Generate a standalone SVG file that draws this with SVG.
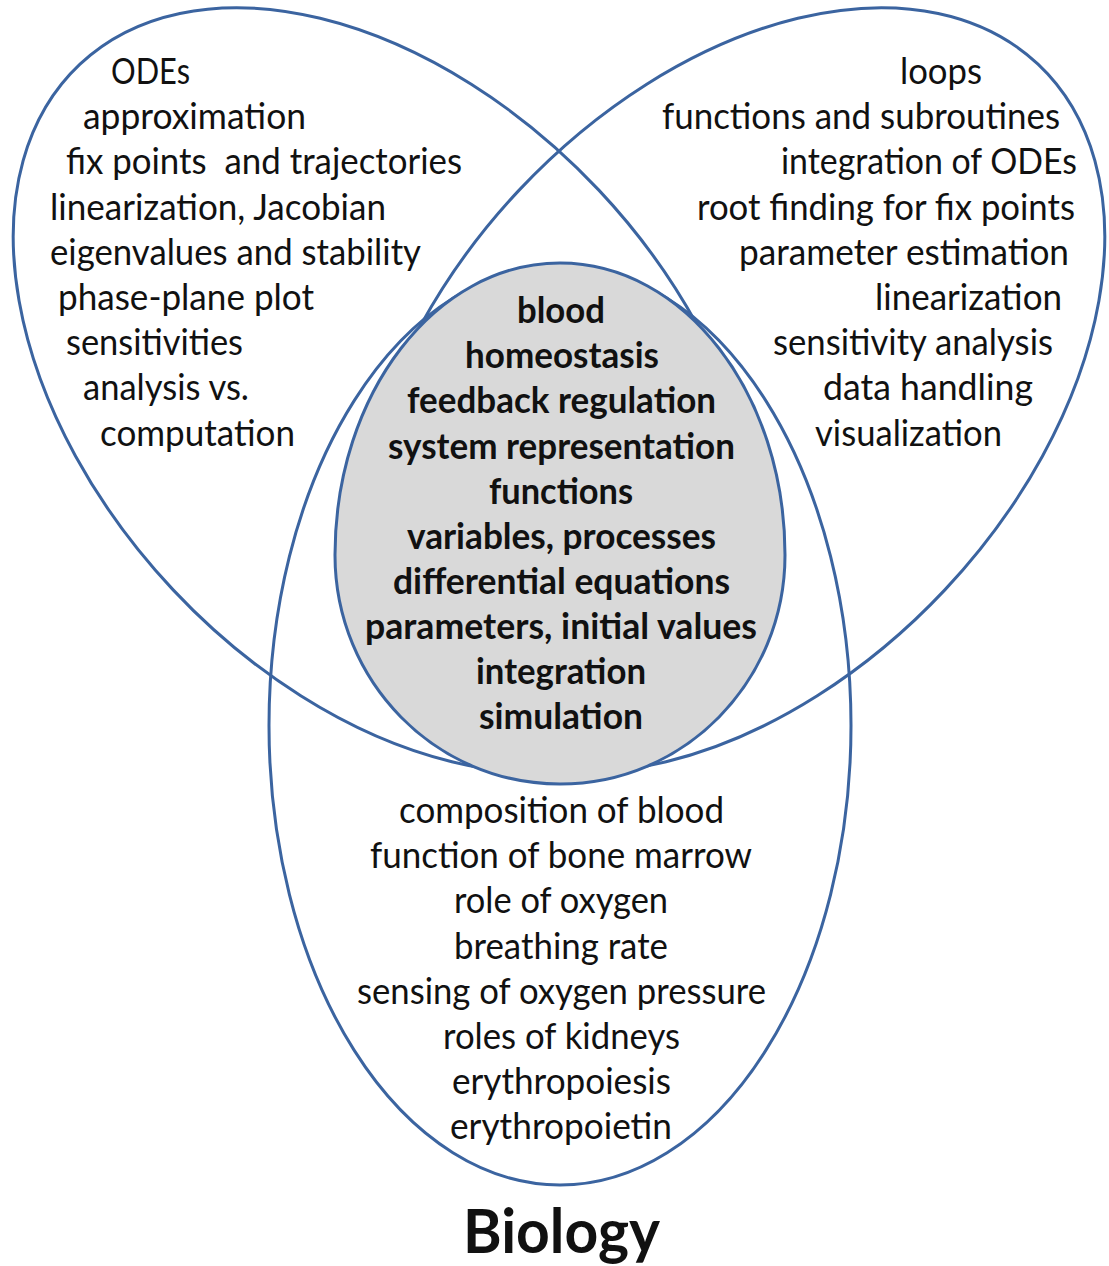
<svg xmlns="http://www.w3.org/2000/svg" width="1109" height="1266" viewBox="0 0 1109 1266">
<style>
.ring{fill:none;stroke:#3b64a0;stroke-width:3}
.core{fill:#d9d9d9;stroke:#3b64a0;stroke-width:3}
text{font-family:Lato,"Liberation Sans",sans-serif;font-size:36px;fill:#111}
.b{font-weight:bold}
.big{font-size:62px;font-weight:bold}
</style>
<rect width="1109" height="1266" fill="#fff"/>
<g id="outlines">
<ellipse id="math" class="ring" cx="386" cy="390" rx="447" ry="292" transform="rotate(46.8 386 390)"/>
<ellipse id="cs" class="ring" cx="732" cy="390" rx="447" ry="292" transform="rotate(-46.8 732 390)"/>
<ellipse id="bio" class="ring" cx="560" cy="725.5" rx="291" ry="459.5"/>
</g>
<g id="core">
<path class="core" d="M560,263 C684.3,263 785,393.7 785,555 C785,681.5 684.3,784 560,784 C435.7,784 335,681.5 335,555 C335,393.7 435.7,263 560,263 Z"/>
<text class="b" x="517" y="323" textLength="88" lengthAdjust="spacingAndGlyphs">blood</text>
<text class="b" x="465" y="368" textLength="194" lengthAdjust="spacingAndGlyphs">homeostasis</text>
<text class="b" x="407" y="413" textLength="309" lengthAdjust="spacingAndGlyphs">feedback regulation</text>
<text class="b" x="388" y="459" textLength="347" lengthAdjust="spacingAndGlyphs">system representation</text>
<text class="b" x="489" y="504" textLength="144" lengthAdjust="spacingAndGlyphs">functions</text>
<text class="b" x="407" y="549" textLength="309" lengthAdjust="spacingAndGlyphs">variables, processes</text>
<text class="b" x="393" y="594" textLength="337" lengthAdjust="spacingAndGlyphs">differential equations</text>
<text class="b" x="365" y="639" textLength="392" lengthAdjust="spacingAndGlyphs">parameters, initial values</text>
<text class="b" x="476" y="684" textLength="170" lengthAdjust="spacingAndGlyphs">integration</text>
<text class="b" x="479" y="729" textLength="164" lengthAdjust="spacingAndGlyphs">simulation</text>
</g>
<g id="math-text">
<text x="111" y="84" textLength="79" lengthAdjust="spacingAndGlyphs">ODEs</text>
<text x="83" y="129" textLength="223" lengthAdjust="spacingAndGlyphs">approximation</text>
<text x="66" y="174" textLength="396" lengthAdjust="spacingAndGlyphs">fix points&#160; and trajectories</text>
<text x="50" y="220" textLength="336" lengthAdjust="spacingAndGlyphs">linearization, Jacobian</text>
<text x="50" y="265" textLength="371" lengthAdjust="spacingAndGlyphs">eigenvalues and stability</text>
<text x="58" y="310" textLength="256" lengthAdjust="spacingAndGlyphs">phase-plane plot</text>
<text x="66" y="355" textLength="177" lengthAdjust="spacingAndGlyphs">sensitivities</text>
<text x="83" y="400" textLength="166" lengthAdjust="spacingAndGlyphs">analysis vs.</text>
<text x="100" y="446" textLength="195" lengthAdjust="spacingAndGlyphs">computation</text>
</g>
<g id="cs-text">
<text x="900" y="84" textLength="82" lengthAdjust="spacingAndGlyphs">loops</text>
<text x="662" y="129" textLength="398" lengthAdjust="spacingAndGlyphs">functions and subroutines</text>
<text x="781" y="174" textLength="296" lengthAdjust="spacingAndGlyphs">integration of ODEs</text>
<text x="697" y="220" textLength="378" lengthAdjust="spacingAndGlyphs">root finding for fix points</text>
<text x="739" y="265" textLength="330" lengthAdjust="spacingAndGlyphs">parameter estimation</text>
<text x="875" y="310" textLength="187" lengthAdjust="spacingAndGlyphs">linearization</text>
<text x="773" y="355" textLength="280" lengthAdjust="spacingAndGlyphs">sensitivity analysis</text>
<text x="823" y="400" textLength="210" lengthAdjust="spacingAndGlyphs">data handling</text>
<text x="815" y="446" textLength="187" lengthAdjust="spacingAndGlyphs">visualization</text>
</g>
<g id="bio-text">
<text x="399" y="823" textLength="325" lengthAdjust="spacingAndGlyphs">composition of blood</text>
<text x="370" y="868" textLength="382" lengthAdjust="spacingAndGlyphs">function of bone marrow</text>
<text x="454" y="913" textLength="214" lengthAdjust="spacingAndGlyphs">role of oxygen</text>
<text x="454" y="959" textLength="214" lengthAdjust="spacingAndGlyphs">breathing rate</text>
<text x="357" y="1004" textLength="409" lengthAdjust="spacingAndGlyphs">sensing of oxygen pressure</text>
<text x="443" y="1049" textLength="237" lengthAdjust="spacingAndGlyphs">roles of kidneys</text>
<text x="452" y="1094" textLength="219" lengthAdjust="spacingAndGlyphs">erythropoiesis</text>
<text x="450" y="1139" textLength="222" lengthAdjust="spacingAndGlyphs">erythropoietin</text>
<text class="big" x="463" y="1253" textLength="197" lengthAdjust="spacingAndGlyphs">Biology</text>
</g>
</svg>
